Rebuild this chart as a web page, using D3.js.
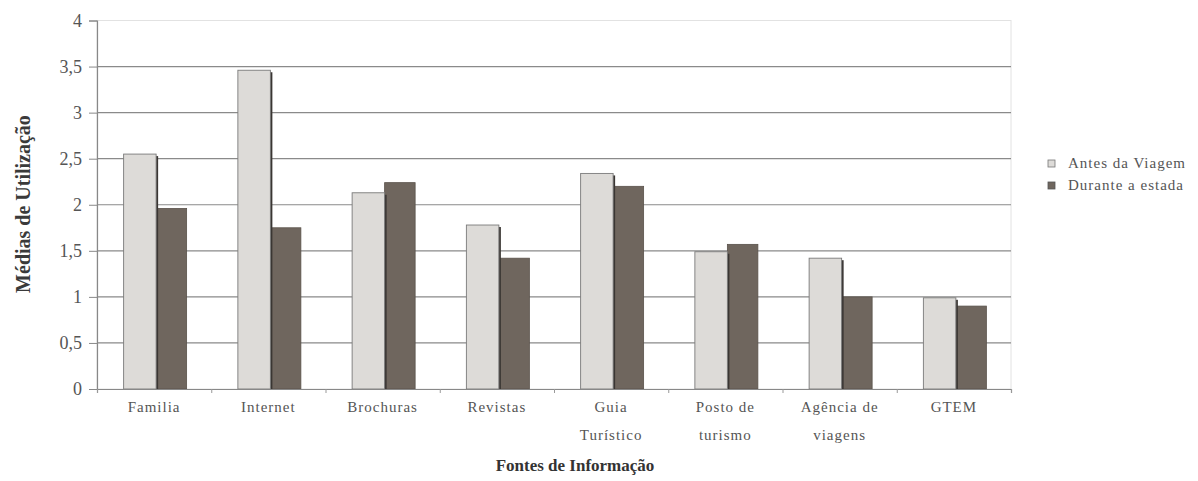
<!DOCTYPE html>
<html><head><meta charset="utf-8">
<script src="https://cdn.jsdelivr.net/npm/d3@7"></script>
<style>body{margin:0;background:#fff}svg{display:block}
svg text{font-family:"Liberation Serif","Times New Roman",Tinos,"DejaVu Serif",serif}</style>
</head><body><svg id="c" width="1198" height="481"></svg>
<script>
const categories = ["Familia","Internet","Brochuras","Revistas","Guia Turístico","Posto de turismo","Agência de viagens","GTEM"];
const seriesNames = ["Antes da Viagem","Durante a estada"];
const antes = [2.55,3.46,2.13,1.78,2.34,1.49,1.42,0.99];
const durante = [1.96,1.75,2.24,1.42,2.2,1.57,1.0,0.9];
const yTicks = [0,0.5,1,1.5,2,2.5,3,3.5,4];
const yTickLabels = ["0","0,5","1","1,5","2","2,5","3","3,5","4"];

const svg = d3.select("#c");
const L=97,R=1011,T=20.5,B=389;
const x = d3.scaleBand().domain(categories).range([L,R]);
const y = d3.scaleLinear().domain([0,4]).range([B,T]);
const colors = ["#dddbd8","#6f665e"];

svg.append("rect").attr("x",L).attr("y",T).attr("width",R-L).attr("height",B-T)
  .attr("fill","none").attr("stroke","#e2e2e2").attr("stroke-width",1);
svg.append("g").selectAll("line").data(yTicks.slice(1,-1)).join("line")
  .attr("x1",L).attr("x2",R).attr("y1",d=>y(d)).attr("y2",d=>y(d))
  .attr("stroke","#8a8a8a").attr("stroke-width",1.2);

const yAxis = d3.axisLeft(y).tickValues(yTicks).tickSize(8).tickPadding(7)
  .tickFormat((d,i)=>yTickLabels[i]);
const gy = svg.append("g").attr("transform",`translate(${L},0)`).call(yAxis);
gy.attr("font-family",null);
gy.select(".domain").attr("stroke","#888").attr("stroke-width",1.2);
gy.selectAll(".tick line").attr("stroke","#888");
gy.selectAll("text").attr("font-size",18).attr("fill","#555");

const bw = 32.5;
const grp = svg.append("g");
categories.forEach((c,i)=>{
  const cx = x(c)+x.bandwidth()/2 + 2;
  grp.append("rect").attr("x",cx).attr("y",y(durante[i])).attr("width",bw-2)
    .attr("height",y(0)-y(durante[i])).attr("fill",colors[1]).attr("stroke","#5a524b").attr("stroke-width",0.8);
  grp.append("rect").attr("x",cx-1).attr("y",y(antes[i])+2).attr("width",3)
    .attr("height",y(0)-y(antes[i])-2).attr("fill","#3a3633");
  grp.append("rect").attr("x",cx-bw).attr("y",y(antes[i])).attr("width",bw)
    .attr("height",y(0)-y(antes[i])).attr("fill",colors[0]).attr("stroke","#7a7a7a").attr("stroke-width",0.9);
});

const xs = d3.scaleLinear().domain([0,8]).range([L,R]);
const gx = svg.append("g").attr("transform",`translate(0,${B})`)
  .call(d3.axisBottom(xs).tickValues(d3.range(0,9)).tickSize(4).tickFormat(""));
gx.select(".domain").attr("stroke","#888").attr("stroke-width",1.2);
gx.selectAll(".tick line").attr("stroke","#999");

const xl = svg.append("g");
categories.forEach((c,i)=>{
  const cx = x(c)+x.bandwidth()/2;
  const words = c.split(" ");
  let lines = words.length===2 ? words : [c];
  if (c==="Posto de turismo") lines=["Posto de","turismo"];
  if (c==="Agência de viagens") lines=["Agência de","viagens"];
  const t = xl.append("text").attr("x",cx).attr("y",412).attr("text-anchor","middle")
    .attr("font-size",15).attr("fill","#555").attr("letter-spacing",1);
  lines.forEach((ln,j)=>t.append("tspan").attr("x",cx).attr("dy",j?28:0).text(ln));
});

svg.append("text").attr("transform","translate(30,204) rotate(-90)").attr("text-anchor","middle")
  .attr("font-size",20).attr("font-weight","bold").attr("fill","#3a3a3a")
  .text("Médias de Utilização");
svg.append("text").attr("x",575).attr("y",471).attr("text-anchor","middle")
  .attr("font-size",17).attr("font-weight","bold").attr("fill","#333")
  .text("Fontes de Informação");

const lg = svg.append("g");
seriesNames.forEach((s,i)=>{
  const yy = 168 + i*22;
  lg.append("rect").attr("x",1048).attr("y",yy-8).attr("width",7).attr("height",7)
    .attr("fill",colors[i]).attr("stroke",i? "#555":"#777").attr("stroke-width",0.8);
  lg.append("text").attr("x",1068).attr("y",yy).attr("font-size",15)
    .attr("fill","#555").attr("letter-spacing",1).text(s);
});
</script></body></html>
